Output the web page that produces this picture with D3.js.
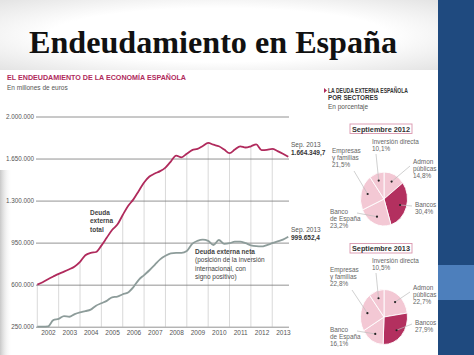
<!DOCTYPE html>
<html><head><meta charset="utf-8">
<script src="https://cdn.jsdelivr.net/npm/d3@7"></script>
<style>body{margin:0;background:#fff;overflow:hidden}svg{display:block}</style>
</head><body>
<svg id="c" width="474" height="355"></svg>
<script>
// ---------- data ----------
const years = ["2002","2003","2004","2005","2006","2007","2008","2009","2010","2011","2012","2013"];
const yTicks = [250000, 600000, 950000, 1300000, 1650000, 2000000];
// quarterly, from 2002 Q1 to Sep. 2013 (millones de euros)
const totalDebt = [600000,620000,645000,668000,690000,708000,728000,752000,
  790000,845000,865000,872000,925000,990000,1055000,1100000,
  1180000,1255000,1310000,1380000,1450000,1500000,1525000,1545000,
  1575000,1625000,1675000,1660000,1690000,1720000,1730000,1755000,
  1780000,1765000,1752000,1725000,1695000,1725000,1752000,1742000,
  1752000,1768000,1720000,1722000,1730000,1712000,1690000,1664349.7];
const netDebt = [250000,250000,252000,305000,315000,338000,333000,355000,
  370000,380000,392000,425000,445000,465000,495000,500000,
  520000,535000,580000,640000,680000,720000,765000,810000,
  840000,860000,864000,864000,880000,940000,965000,975000,
  965000,930000,972000,940000,945000,958000,958000,945000,
  928000,920000,918000,930000,945000,960000,975000,999652.4];
const sectors = ["Admon públicas","Bancos","Banco de España","Empresas y familias","Inversión directa"];
const sectorLines = [["Admon","públicas"],["Bancos"],["Banco","de España"],["Empresas","y familias"],["Inversión directa"]];
const share2012 = [14.8, 30.4, 23.2, 21.5, 10.1];
const share2013 = [22.7, 27.9, 16.1, 22.8, 10.5];
const pieTitles = ["Septiembre 2012", "Septiembre 2013"];

// ---------- setup ----------
const svg = d3.select("#c");
const es = d3.formatLocale({decimal:",", thousands:".", grouping:[3], currency:["","€"]});
const fmtInt = es.format(",");
const fmtDec = es.format(",.1f");
const RED = "#b02a5c", GREY = "#8d9c9a", TXT = "#444", SANS = "'Liberation Sans Narrow','Liberation Sans',Arial,sans-serif";

const defs = svg.append("defs");
const g1 = defs.append("linearGradient").attr("id","lshade").attr("x1",0).attr("x2",1);
g1.append("stop").attr("offset",0).attr("stop-color","#c8c8c8");
g1.append("stop").attr("offset",1).attr("stop-color","#fff").attr("stop-opacity",0);
const g2 = defs.append("radialGradient").attr("id","topshade").attr("cx","50%").attr("cy","50%").attr("r","70%");
g2.append("stop").attr("offset","55%").attr("stop-color","#fff");
g2.append("stop").attr("offset","100%").attr("stop-color","#e4e4e4");

svg.append("rect").attr("width",438).attr("height",70).attr("fill","url(#topshade)");
svg.append("rect").attr("x",0).attr("y",170).attr("width",12).attr("height",185).attr("fill","url(#lshade)");

// right blue panel
svg.append("rect").attr("x",438).attr("y",0).attr("width",36).attr("height",355).attr("fill","#1f4a7f");
svg.append("rect").attr("x",438).attr("y",265).attr("width",36).attr("height",35).attr("fill","#4d7fbc");

// title
const title = svg.append("text").attr("x",29).attr("y",53)
  .attr("font-family","'Liberation Serif','DejaVu Serif',serif").attr("font-weight","bold")
  .attr("font-size",32).attr("fill","#111").text("Endeudamiento en España");
title.attr("textLength",368).attr("lengthAdjust","spacingAndGlyphs");

svg.append("text").attr("x",7).attr("y",80).attr("font-family",SANS).attr("font-weight","bold")
  .attr("font-size",8).attr("fill",RED).attr("textLength",179).attr("lengthAdjust","spacingAndGlyphs")
  .text("EL ENDEUDAMIENTO DE LA ECONOMÍA ESPAÑOLA");
svg.append("text").attr("x",7).attr("y",90).attr("font-family",SANS)
  .attr("font-size",6.5).attr("fill","#555").text("En millones de euros");

// ---------- line chart ----------
const x = d3.scaleLinear().domain([2002, 2014]).range([37.3, 293.6]);
const y = d3.scaleLinear().domain([250000, 2000000]).range([326.7, 116.5]);
const tOf = i => 2002 + i / 4;

// vertical gridlines under the total debt curve
const vg = svg.append("g");
years.forEach((yr, k) => {
  const i = k * 4;
  vg.append("line").attr("x1", x(+yr)).attr("x2", x(+yr))
    .attr("y1", y(250000)).attr("y2", y(totalDebt[i]))
    .attr("stroke","#cfcfcf").attr("stroke-width",0.8);
});

const yAxis = d3.axisLeft(y).tickValues(yTicks).tickSize(-253).tickPadding(2).tickFormat(fmtInt);
const ya = svg.append("g").attr("transform","translate(36,0)").call(yAxis);
ya.select(".domain").remove();
ya.selectAll(".tick line").attr("stroke","#777").attr("stroke-width",0.8);
ya.selectAll(".tick text").attr("font-family",SANS).attr("font-size",6.3).attr("fill","#555").attr("dy","0.35em");

const xAxis = d3.axisBottom(x).tickValues(years.map(d => +d + 0.5)).tickSize(0).tickPadding(4)
  .tickFormat((d, i) => years[i]);
const xa = svg.append("g").attr("transform",`translate(0,${y(250000)})`).call(xAxis);
xa.select(".domain").remove();
xa.selectAll(".tick text").attr("font-family",SANS).attr("font-size",6.5).attr("fill","#555");

const line = d3.line().x((d, i) => x(tOf(i))).y(d => y(d)).curve(d3.curveMonotoneX);
svg.append("path").datum(netDebt).attr("d", line).attr("fill","none")
  .attr("stroke",GREY).attr("stroke-width",1.8);
svg.append("path").datum(totalDebt).attr("d", line).attr("fill","none")
  .attr("stroke",RED).attr("stroke-width",1.8);

// end labels
function endLabel(val, yy) {
  svg.append("text").attr("x",291).attr("y",yy).attr("font-family",SANS).attr("font-size",6.5)
    .attr("fill","#555").text("Sep. 2013");
  svg.append("text").attr("x",291).attr("y",yy+8).attr("font-family",SANS).attr("font-size",6.5)
    .attr("font-weight","bold").attr("fill","#333").text(fmtDec(val));
}
endLabel(totalDebt[totalDebt.length-1], y(totalDebt[totalDebt.length-1]) - 10);
endLabel(netDebt[netDebt.length-1], y(netDebt[netDebt.length-1]) - 5);

function block(xx, yy, lines, weights) {
  lines.forEach((s, i) => svg.append("text").attr("x",xx).attr("y",yy + i*8.3)
    .attr("font-family",SANS).attr("font-size",6.5).attr("fill",TXT)
    .attr("font-weight", weights[i] || "normal").text(s));
}
block(90, 215, ["Deuda","externa","total"], ["bold","bold","bold"]);
block(195, 254, ["Deuda externa neta","(posición de la inversión","internacional, con","signo positivo)"], ["bold"]);

// ---------- pies ----------
svg.append("path").attr("d","M324,88 L327,90.5 L324,93 Z").attr("fill",RED);
svg.append("text").attr("x",328).attr("y",92.5).attr("font-family",SANS).attr("font-weight","bold")
  .attr("font-size",6.3).attr("fill","#333").attr("textLength",80).attr("lengthAdjust","spacingAndGlyphs")
  .text("LA DEUDA EXTERNA ESPAÑOLA");
svg.append("text").attr("x",328).attr("y",100).attr("font-family",SANS).attr("font-weight","bold")
  .attr("font-size",6.3).attr("fill","#333").text("POR SECTORES");
svg.append("text").attr("x",328).attr("y",109).attr("font-family",SANS)
  .attr("font-size",6.5).attr("fill","#555").text("En porcentaje");

const pie = d3.pie().sort(null).value(d => d);
const colors = ["#f3c8d4","#b3305f","#f3c8d4","#f3c8d4","#f3c8d4"];

function drawPie(shares, cx, cy, rx, ry, boxY, labelPos, leaders, titleTxt) {
  // title box
  svg.append("rect").attr("x",350).attr("y",boxY).attr("width",62).attr("height",9.5)
    .attr("fill","#fff").attr("stroke","#d995ad").attr("stroke-width",0.9);
  svg.append("text").attr("x",381).attr("y",boxY+7.6).attr("text-anchor","middle")
    .attr("font-family",SANS).attr("font-weight","bold").attr("font-size",7.3).attr("fill","#333").text(titleTxt);

  const arcs = pie(shares);
  const arc = d3.arc().innerRadius(0).outerRadius(ry);
  const gp = svg.append("g").attr("transform",`translate(${cx},${cy}) scale(${rx/ry},1)`);
  gp.selectAll("path").data(arcs).join("path").attr("d", arc)
    .attr("fill",(d,i) => colors[i]).attr("stroke","#fff").attr("stroke-width",0.9)
    .attr("vector-effect","non-scaling-stroke");

  arcs.forEach((a, i) => {
    const m = (a.startAngle + a.endAngle) / 2;
    const f = 0.72;
    const dx = cx + Math.sin(m) * rx * f, dy = cy - Math.cos(m) * ry * f;
    const L = leaders[i];
    svg.append("line").attr("x1",dx).attr("y1",dy).attr("x2",L[0]).attr("y2",L[1])
      .attr("stroke","#bbb").attr("stroke-width",0.7);
    svg.append("circle").attr("cx",dx).attr("cy",dy).attr("r",1.1).attr("fill","#222");
    const P = labelPos[i];
    const lines = sectorLines[i].concat([fmtDec(shares[i]) + "%"]);
    lines.forEach((s, k) => svg.append("text").attr("x",P[0]).attr("y",P[1] + k*7.2)
      .attr("font-family",SANS).attr("font-size",6.4).attr("fill","#666").text(s));
  });
}

drawPie(share2012, 384, 199, 23.5, 27, 124,
  [[413,164],[415,207],[330,214],[332,153],[372,144]],
  [[410,166],[412,206],[357,213],[354,171],[376,154]],
  pieTitles[0]);
drawPie(share2013, 384, 317, 23.5, 27.5, 243.5,
  [[413,290],[415,325],[330,332],[330,272],[372,263]],
  [[410,292],[412,324],[357,331],[352,290],[376,273]],
  pieTitles[1]);
</script>
</body></html>
